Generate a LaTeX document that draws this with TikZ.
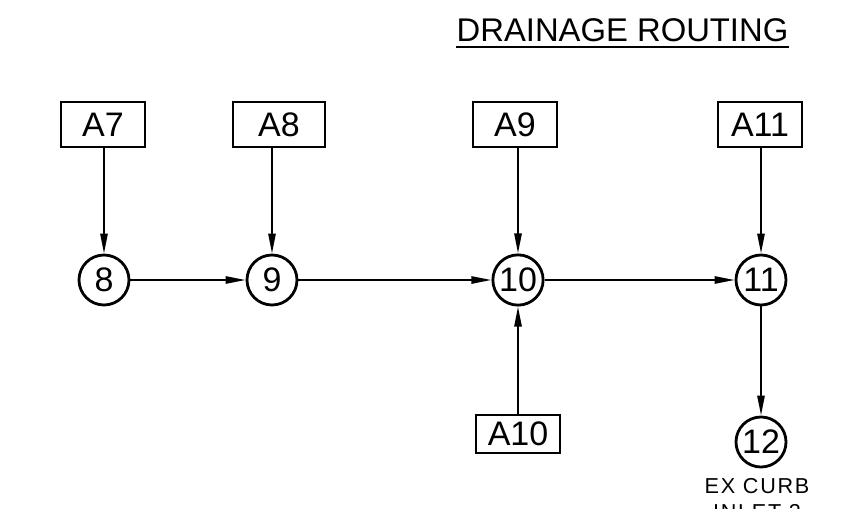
\documentclass[tikz,border=0pt]{standalone}
\usepackage{fontspec}
\setmainfont{Liberation Sans}
\usetikzlibrary{arrows.meta}

\tikzset{
  area/.style={draw, line width=1.3pt, minimum width=42pt, minimum height=22.5pt,
    inner sep=2pt, font=\fontsize{17}{20}\selectfont},
  junction/.style={draw, circle, line width=1.4pt, minimum size=25pt,
    inner sep=1pt, font=\fontsize{17}{20}\selectfont},
  flow/.style={line width=1pt, -{Triangle[length=10pt, width=3.6pt]}}
}

\begin{document}
\begin{tikzpicture}[x=0.5pt, y=-0.5pt]
  \useasboundingbox (0,0) rectangle (866,508);
  % Title
  \node[font=\fontsize{16.4}{19}\selectfont, anchor=base, inner sep=0pt] (title) at (622.5,42) {DRAINAGE ROUTING};
  \draw[line width=1.1pt] ([yshift=-2.6pt]title.base west) -- ([yshift=-2.6pt]title.base east);

  % Junctions
  \node[junction] (n8) at (104,280) {8};
  \node[junction] (n9) at (272,280) {9};
  \node[junction] (n10) at (518,280) {10};
  \node[junction] (n11) at (761,280) {11};
  \node[junction] (n12) at (761,442) {12};

  % Sub-areas
  \node[area] (a7) at (103,124.5) {A7};
  \node[area, minimum width=46pt] (a8) at (279,124.5) {A8};
  \node[area] (a9) at (515,124.5) {A9};
  \node[area] (a11) at (760,124.5) {A11};
  \node[area, minimum height=19pt] (a10) at (518,434) {A10};

  % Flow
  \foreach \a/\n in {a7/n8, a8/n9, a9/n10, a11/n11}
    \draw[flow] (\n |- \a.south) -- (\n);
  \draw[flow] (n10 |- a10.north) -- (n10);
  \draw[flow] (n8) -- (n9);
  \draw[flow] (n9) -- (n10);
  \draw[flow] (n10) -- (n11);
  \draw[flow] (n11) -- (n12);

  \node[font=\fontsize{10.8}{13}\selectfont\addfontfeatures{LetterSpace=8}, align=center, anchor=north, inner sep=0pt] (inlet) at (757,478) {EX CURB\\INLET 2};
\end{tikzpicture}
\end{document}
